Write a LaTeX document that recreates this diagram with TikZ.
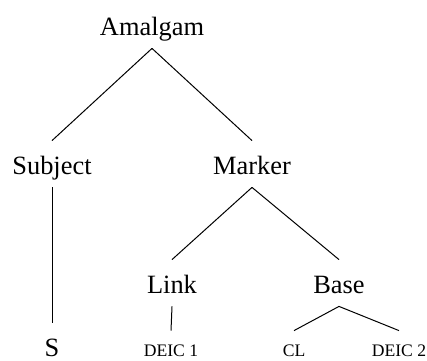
\documentclass[tikz,border=0pt]{standalone}
\usepackage{fontspec}
\setmainfont{Liberation Serif}
\usetikzlibrary{positioning}

\begin{document}
\begin{tikzpicture}[
    x=0.5pt, y=0.5pt,
    cat/.style={anchor=base, inner xsep=0pt, inner ysep=3.5pt,
                text height=13pt, text depth=3pt,
                font=\fontsize{13.2}{15}\selectfont},
    leaf/.style={anchor=base, inner xsep=0pt, inner ysep=3.5pt,
                 text height=9pt, text depth=2pt,
                 font=\fontsize{8.8}{10}\selectfont},
    branch/.style={line width=0.5pt},
  ]
    \useasboundingbox (0,0) rectangle (427,360);
    % Top level
    \node[cat] (amalgam) at (152,325) {Amalgam};
    % Second level
    \node[cat] (subject) at (52,186)  {Subject};
    \node[cat] (marker)  at (252,186) {Marker};
    % Third level
    \node[cat] (link) at (172,67) {Link};
    \node[cat] (base) at (339,67) {Base};
    % Leaves
    \node[cat, text depth=0pt]  (s) at (52,4) {S};
    \node[leaf] (deica) at (171,4) {DEIC 1};
    \node[leaf] (cl)    at (294,4) {CL};
    \node[leaf] (deicb) at (399,4) {DEIC 2};

    \draw[branch] (amalgam.south) -- (subject.north);
    \draw[branch] (amalgam.south) -- (marker.north);
    \draw[branch] (subject.south) -- (s.north);
    \draw[branch] (marker.south) -- (link.north);
    \draw[branch] (marker.south) -- (base.north);
    \draw[branch] (link.south) -- (deica.north);
    \draw[branch] (base.south) -- (cl.north);
    \draw[branch] (base.south) -- (deicb.north);
\end{tikzpicture}
\end{document}
